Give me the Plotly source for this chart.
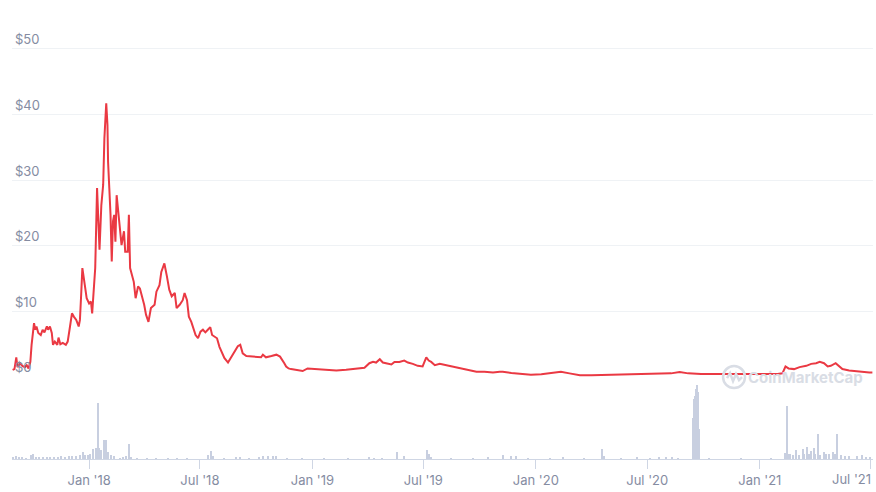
import plotly.graph_objects as go

# price in USD
price_dates = [
    '2017-08-29', '2017-09-01', '2017-09-04', '2017-09-06', '2017-09-10', '2017-09-14', '2017-09-18',
    '2017-09-21', '2017-09-24', '2017-09-27', '2017-09-29', '2017-10-03', '2017-10-05', '2017-10-07',
    '2017-10-10', '2017-10-14', '2017-10-17', '2017-10-20', '2017-10-24', '2017-10-26', '2017-10-29',
    '2017-11-01', '2017-11-03', '2017-11-06', '2017-11-10', '2017-11-12', '2017-11-15', '2017-11-19',
    '2017-11-24', '2017-11-27', '2017-11-30', '2017-12-04', '2017-12-07', '2017-12-11', '2017-12-15',
    '2017-12-17', '2017-12-19', '2017-12-21', '2017-12-25', '2017-12-28', '2018-01-01', '2018-01-04',
    '2018-01-06', '2018-01-09', '2018-01-11', '2018-01-14', '2018-01-16', '2018-01-18', '2018-01-21',
    '2018-01-24', '2018-01-26', '2018-01-29', '2018-01-31', '2018-02-01', '2018-02-03', '2018-02-05',
    '2018-02-07', '2018-02-09', '2018-02-11', '2018-02-13', '2018-02-15', '2018-02-18', '2018-02-21',
    '2018-02-23', '2018-02-27', '2018-03-01', '2018-03-05', '2018-03-07', '2018-03-09', '2018-03-12',
    '2018-03-15', '2018-03-18', '2018-03-22', '2018-03-25', '2018-03-28', '2018-04-01', '2018-04-04',
    '2018-04-08', '2018-04-12', '2018-04-18', '2018-04-21', '2018-04-26', '2018-04-29', '2018-05-04',
    '2018-05-08', '2018-05-12', '2018-05-16', '2018-05-21', '2018-05-24', '2018-05-29', '2018-06-03',
    '2018-06-06', '2018-06-10', '2018-06-13', '2018-06-17', '2018-06-21', '2018-06-24', '2018-06-28',
    '2018-07-02', '2018-07-06', '2018-07-10', '2018-07-14', '2018-07-18', '2018-07-21', '2018-07-25',
    '2018-07-29', '2018-08-02', '2018-08-07', '2018-08-10', '2018-08-16', '2018-08-21', '2018-08-27',
    '2018-09-01', '2018-09-05', '2018-09-09', '2018-09-15', '2018-09-23', '2018-10-01', '2018-10-09',
    '2018-10-12', '2018-10-17', '2018-10-26', '2018-11-03', '2018-11-09', '2018-11-13', '2018-11-16',
    '2018-11-19', '2018-11-23', '2018-11-27', '2018-12-08', '2018-12-16', '2018-12-24', '2019-01-07',
    '2019-01-24', '2019-02-09', '2019-02-25', '2019-03-14', '2019-03-27', '2019-04-04', '2019-04-10',
    '2019-04-15', '2019-04-21', '2019-04-26', '2019-05-04', '2019-05-10', '2019-05-15', '2019-05-23',
    '2019-05-31', '2019-06-06', '2019-06-14', '2019-06-22', '2019-06-30', '2019-07-06', '2019-07-10',
    '2019-07-14', '2019-07-20', '2019-07-28', '2019-08-08', '2019-08-18', '2019-09-01', '2019-09-15',
    '2019-09-26', '2019-10-09', '2019-10-23', '2019-11-03', '2019-11-08', '2019-11-22', '2019-12-08',
    '2019-12-24', '2020-01-10', '2020-01-26', '2020-02-11', '2020-02-25', '2020-03-13', '2020-04-01',
    '2020-04-22', '2020-05-14', '2020-06-05', '2020-06-27', '2020-07-24', '2020-08-09', '2020-08-23',
    '2020-09-06', '2020-09-27', '2020-10-16', '2020-11-07', '2020-11-29', '2020-12-21', '2021-01-11',
    '2021-01-30', '2021-02-07', '2021-02-12', '2021-02-17', '2021-02-26', '2021-03-07', '2021-03-18',
    '2021-03-26', '2021-04-03', '2021-04-09', '2021-04-16', '2021-04-22', '2021-04-27', '2021-05-05',
    '2021-05-09', '2021-05-16', '2021-05-27', '2021-06-07', '2021-06-18', '2021-06-29', '2021-07-04',
]
price_values = [
    1.07, 1.2, 3.0, 1.5, 2.1, 1.7, 1.5,
    1.8, 1.3, 2.3, 4.9, 8.2, 7.2, 7.7,
    6.7, 6.4, 7.2, 6.8, 7.7, 7.2, 7.7,
    6.7, 4.9, 5.4, 4.9, 6.0, 5.0, 5.2,
    4.9, 5.4, 7.2, 9.7, 9.2, 8.7, 7.7,
    8.7, 12.5, 16.6, 14.0, 12.0, 11.2, 11.5,
    9.7, 14.5, 16.6, 28.8, 23.2, 19.4, 26.2,
    29.3, 36.4, 41.7, 38.4, 32.8, 28.8, 24.7,
    17.6, 23.7, 24.7, 20.6, 27.7, 24.7, 22.2,
    20.1, 22.2, 19.1, 19.1, 24.7, 16.6, 15.5,
    14.5, 12.0, 13.8, 13.5, 12.5, 11.0, 9.5,
    8.4, 10.5, 11.0, 13.0, 14.0, 16.0, 17.3,
    15.4, 13.3, 12.3, 12.8, 10.5, 11.0, 11.7,
    12.8, 11.7, 9.2, 8.4, 7.2, 6.4, 5.9,
    6.9, 7.2, 6.8, 7.2, 7.6, 6.4, 6.1,
    5.9, 4.6, 3.6, 2.9, 2.2, 3.0, 3.9,
    4.7, 4.9, 3.6, 3.2, 3.1, 3.0, 3.0,
    3.4, 3.0, 3.2, 3.4, 3.1, 2.6, 2.1,
    1.6, 1.3, 1.2, 1.0, 0.9, 1.3, 1.2,
    1.1, 1.0, 1.1, 1.3, 1.4, 2.1, 2.3,
    2.2, 2.7, 2.2, 2.0, 1.9, 2.3, 2.3,
    2.5, 2.2, 2.0, 1.7, 1.6, 3.0, 2.5,
    2.3, 1.8, 2.0, 1.8, 1.6, 1.3, 1.1,
    0.8, 0.8, 0.7, 0.8, 0.8, 0.6, 0.5,
    0.35, 0.4, 0.55, 0.8, 0.55, 0.25, 0.25,
    0.3, 0.35, 0.4, 0.45, 0.55, 0.55, 0.75,
    0.55, 0.45, 0.45, 0.4, 0.4, 0.4, 0.4,
    0.45, 0.55, 1.6, 1.3, 1.2, 1.5, 1.7,
    2.0, 2.1, 2.3, 2.1, 1.6, 1.7, 2.1,
    1.8, 1.2, 1.0, 0.9, 0.7, 0.7, 0.7,
]

# 24h volume (relative units)
vol_dates = [
    '2017-08-30', '2017-09-04', '2017-09-08', '2017-09-13', '2017-09-20', '2017-09-28', '2017-10-01',
    '2017-10-06', '2017-10-12', '2017-10-18', '2017-10-24', '2017-10-30', '2017-11-05', '2017-11-11',
    '2017-11-17', '2017-11-23', '2017-11-29', '2017-12-05', '2017-12-11', '2017-12-17', '2017-12-22',
    '2017-12-26', '2017-12-30', '2018-01-03', '2018-01-07', '2018-01-12', '2018-01-15', '2018-01-18',
    '2018-01-21', '2018-01-26', '2018-01-29', '2018-02-01', '2018-02-06', '2018-02-11', '2018-02-20',
    '2018-02-26', '2018-03-03', '2018-03-07', '2018-03-11', '2018-03-20', '2018-04-05', '2018-04-20',
    '2018-05-10', '2018-05-25', '2018-06-10', '2018-07-15', '2018-07-19', '2018-07-22', '2018-08-10',
    '2018-08-29', '2018-09-04', '2018-09-20', '2018-10-05', '2018-10-12', '2018-10-20', '2018-10-28',
    '2018-11-03', '2018-11-20', '2018-12-15', '2019-01-20', '2019-03-01', '2019-04-04', '2019-04-12',
    '2019-04-25', '2019-05-19', '2019-05-31', '2019-07-07', '2019-07-10', '2019-07-14', '2019-08-15',
    '2019-09-20', '2019-10-15', '2019-11-08', '2019-11-22', '2019-11-29', '2019-12-20', '2020-01-25',
    '2020-02-15', '2020-03-20', '2020-04-18', '2020-04-22', '2020-05-20', '2020-06-15', '2020-07-05',
    '2020-07-20', '2020-08-01', '2020-08-10', '2020-08-20', '2020-09-14', '2020-09-15', '2020-09-16',
    '2020-09-17', '2020-09-18', '2020-09-19', '2020-09-20', '2020-09-21', '2020-09-22', '2020-09-23',
    '2020-09-24', '2020-10-10', '2020-12-01', '2021-01-20', '2021-02-12', '2021-02-14', '2021-02-16',
    '2021-02-20', '2021-02-24', '2021-03-02', '2021-03-06', '2021-03-12', '2021-03-15', '2021-03-19',
    '2021-03-23', '2021-03-26', '2021-03-30', '2021-04-02', '2021-04-07', '2021-04-10', '2021-04-16',
    '2021-04-20', '2021-04-25', '2021-04-30', '2021-05-04', '2021-05-08', '2021-05-14', '2021-05-20',
    '2021-05-27', '2021-06-09', '2021-06-18', '2021-06-24', '2021-07-01',
]
vol_values = [
    2, 3, 1.5, 2.3, 1.2, 3.5, 4.7,
    2.3, 1.8, 1.5, 1.8, 1.5, 2, 1.5,
    2.5, 2, 2.5, 3, 2.5, 3.5, 7.3,
    4, 4, 5, 10, 11, 55.7, 10.7,
    9, 19, 19, 7.3, 4, 3, 1.3,
    2, 3, 14.7, 2.3, 1, 1, 1,
    1, 0.8, 0.8, 4, 8, 3, 1,
    2, 2.3, 1, 1.5, 2.7, 2.7, 2.7,
    2.5, 0.8, 0.5, 0.5, 0.6, 1.5, 1.2,
    1, 6.7, 3, 9.3, 5, 2, 0.8,
    0.6, 1.5, 4, 3, 3.3, 0.5, 1.2,
    1.5, 0.6, 10, 3, 1.2, 1.5, 1.2,
    2, 1.5, 2, 1, 40, 48, 59,
    55, 62, 69, 73, 70, 66, 46,
    30, 0.5, 0.3, 0.8, 6, 52.7, 5,
    4.5, 4, 8.7, 4, 10, 5, 12,
    5, 7.7, 11, 5, 24.3, 4.3, 6.7,
    5, 4.5, 6.7, 4.5, 24.3, 4, 2.7,
    2.7, 3.3, 4.3, 2, 1.5,
]

tick_dates = ['2018-01-01', '2018-07-01', '2019-01-01', '2019-07-01',
              '2020-01-01', '2020-07-01', '2021-01-01', '2021-07-01']
tick_labels = ["Jan '18", "Jul '18", "Jan '19", "Jul '19",
               "Jan '20", "Jul '20", "Jan '21", "Jul '21"]
price_ticks = [0, 10, 20, 30, 40, 50]

label_color = '#858ca2'
grid_color = '#eff2f5'

fig = go.Figure()

fig.add_trace(go.Bar(
    x=vol_dates,
    y=vol_values,
    width=2 * 86400000,
    marker=dict(color='#c8cfe0', line=dict(width=0)),
    xaxis='x',
    yaxis='y2',
))

fig.add_trace(go.Scatter(
    x=price_dates,
    y=price_values,
    mode='lines',
    line=dict(color='#ea3943', width=2),
    xaxis='x',
    yaxis='y',
))

fig.update_layout(
    width=876,
    height=492,
    margin=dict(l=12, r=3, t=0, b=33),
    plot_bgcolor='white',
    paper_bgcolor='white',
    showlegend=False,
    font=dict(family='Inter', size=13, color=label_color),
    bargap=0,
    xaxis=dict(
        type='date',
        range=['2017-08-28', '2021-07-05'],
        anchor='y2',
        tickmode='array',
        tickvals=tick_dates,
        ticktext=tick_labels[:-1] + [''],
        ticks='outside',
        ticklen=9,
        tickcolor='#cfd6e4',
        showline=True,
        linecolor='#cfd6e4',
        showgrid=False,
        zeroline=False,
        tickfont=dict(size=13, color=label_color),
    ),
    yaxis=dict(
        domain=[0.1787, 0.965],
        range=[0, 55],
        tickmode='array',
        tickvals=price_ticks,
        ticktext=['$' + str(v) for v in price_ticks],
        ticklabelposition='inside top',
        showgrid=True,
        gridcolor=grid_color,
        gridwidth=1,
        zeroline=False,
        showline=False,
        tickfont=dict(size=13, color=label_color),
    ),
    yaxis2=dict(
        domain=[0, 0.1656],
        range=[0, 75],
        showgrid=False,
        showticklabels=False,
        zeroline=False,
        showline=False,
    ),
)

# last month label sits right-aligned to its tick
fig.add_annotation(
    x=tick_dates[-1], y=0, xref='x', yref='paper',
    text=tick_labels[-1], showarrow=False,
    xanchor='right', yanchor='top', yshift=-10, xshift=2,
    font=dict(size=13, color=label_color),
)

# CoinMarketCap watermark
wm_color = '#d9dde5'
fig.add_shape(
    type='circle', xref='paper', yref='paper',
    xsizemode='pixel', ysizemode='pixel',
    xanchor=0.8386, yanchor=0.1786,
    x0=-11, x1=11, y0=-11, y1=11,
    line=dict(color=wm_color, width=2.5),
)
fig.add_shape(
    type='path', xref='paper', yref='paper',
    xsizemode='pixel', ysizemode='pixel',
    xanchor=0.8386, yanchor=0.1786,
    path='M -7,-1 L -4,4 L -1,-4 L 2,3 L 5,-3 L 8,0',
    line=dict(color=wm_color, width=2.5),
)
fig.add_annotation(
    x=0.853, y=0.1786, xref='paper', yref='paper',
    text='<b>CoinMarketCap</b>', showarrow=False,
    xanchor='left', yanchor='middle',
    font=dict(family='Inter', size=15, color=wm_color),
)

fig.write_html("out.html", config={'displayModeBar': False},
               post_script="document.body.style.margin='0';")
